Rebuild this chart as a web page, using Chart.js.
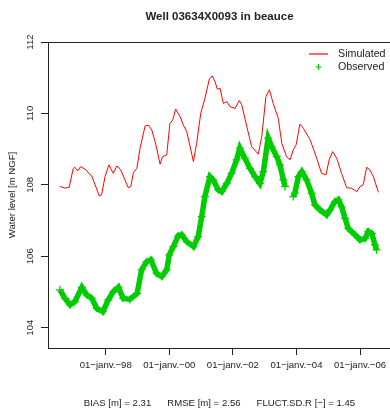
<!DOCTYPE html>
<html>
<head>
<meta charset="utf-8">
<script src="https://cdn.jsdelivr.net/npm/chart.js@4.4.0/dist/chart.umd.min.js"></script>
<style>
  html, body { margin: 0; padding: 0; background: #fff; overflow: hidden; width: 390px; height: 412px; }
  #wrap { width: 400px; height: 412px; }
</style>
</head>
<body>
<div id="wrap"><canvas id="wellChart" width="400" height="412"></canvas></div>
<script>
// simulated head (decimal year / m NGF)
const simDates = [1996.56, 1996.72, 1996.85, 1996.98, 1997.03, 1997.12, 1997.21, 1997.38, 1997.51, 1997.56, 1997.80, 1997.87, 1997.98,
  1998.10, 1998.24, 1998.35, 1998.47, 1998.71, 1998.79, 1998.87, 1998.98, 1999.08, 1999.24, 1999.34, 1999.45, 1999.58, 1999.71, 1999.79, 1999.92,
  2000.02, 2000.11, 2000.20, 2000.34, 2000.44, 2000.55, 2000.76, 2000.86, 2000.99, 2001.12, 2001.26, 2001.35, 2001.44, 2001.51, 2001.60, 2001.70,
  2001.81, 2001.91, 2002.07, 2002.20, 2002.28, 2002.44, 2002.59, 2002.80, 2002.91, 2003.04, 2003.15, 2003.27, 2003.43, 2003.54, 2003.69, 2003.80,
  2003.90, 2003.99, 2004.11, 2004.22, 2004.43, 2004.64, 2004.79, 2004.93, 2005.03, 2005.14, 2005.27, 2005.42, 2005.58, 2005.74, 2005.90, 2006.00,
  2006.10, 2006.21, 2006.31, 2006.42, 2006.58];
const simLevels = [107.95, 107.91, 107.93, 108.46, 108.49, 108.39, 108.51, 108.42, 108.28, 108.25, 107.69, 107.72, 108.23,
  108.56, 108.32, 108.53, 108.42, 107.92, 107.95, 108.34, 108.46, 109.02, 109.65, 109.67, 109.54, 109.12, 108.58, 108.79, 108.84,
  109.72, 109.82, 110.12, 109.91, 109.68, 109.49, 108.65, 109.16, 110.00, 110.42, 110.96, 111.05, 110.89, 110.68, 110.70, 110.28,
  110.33, 110.19, 110.14, 110.36, 110.24, 109.63, 109.07, 108.86, 109.35, 110.47, 110.66, 110.28, 109.86, 109.16, 108.79, 108.70,
  108.98, 109.12, 109.70, 109.58, 109.26, 108.74, 108.32, 108.28, 108.70, 108.93, 108.74, 108.32, 107.92, 107.90, 107.81, 107.95,
  108.00, 108.49, 108.42, 108.23, 107.79];

// observed head, null = no measurement
const obsDates = [1996.56, 1996.72, 1996.88, 1997.03, 1997.25, 1997.40, 1997.56, 1997.72, 1997.91, 1998.08, 1998.24, 1998.40, 1998.55,
  1998.76, 1998.99, 1999.13, 1999.29, 1999.42, 1999.60, 1999.76, 1999.92, 2000.00, 2000.13, 2000.28, 2000.39, 2000.55, 2000.76, 2000.91,
  2001.02, 2001.12, 2001.28, 2001.38, 2001.54, 2001.65, 2001.81, 2001.96, 2002.12, 2002.22, 2002.38, 2002.54, 2002.70, 2002.85, 2002.96,
  2003.11, 2003.22, 2003.38, 2003.48, 2003.59, 2003.64, 2003.77, 2003.90, 2003.95, 2004.06, 2004.17, 2004.32, 2004.48, 2004.58, 2004.74,
  2004.95, 2005.06, 2005.21, 2005.32, 2005.42, 2005.53, 2005.63, 2005.84, 2006.00, 2006.16, 2006.26, 2006.37, 2006.47, 2006.52];
const obsLevels = [105.06, 104.82, 104.64, 104.73, 105.13, 104.92, 104.82, 104.54, 104.45, 104.78, 105.01, 105.13, 104.82,
  104.79, 104.96, 105.62, 105.85, 105.90, 105.52, 105.43, 105.62, 106.04, 106.27, 106.57, 106.60, 106.41, 106.27, 106.55,
  107.11, 107.67, 108.23, 108.14, 107.86, 107.81, 108.04, 108.32, 108.70, 109.03, 108.74, 108.46, 108.23, 108.04, 108.37,
  109.31, 109.07, 108.79, 108.56, 108.14, 107.95, null, 107.67, 107.77, 108.23, 108.37, 108.14, 107.76, 107.44, 107.30,
  107.16, 107.30, 107.53, 107.58, 107.39, 107.06, 106.78, 106.60, 106.46, 106.50, 106.69, 106.64, 106.32, 106.18];

const xTickYears = [1998, 2000, 2002, 2004, 2006];
const xTickLabels = ['01\u2212janv.\u221298', '01\u2212janv.\u221200', '01\u2212janv.\u221202', '01\u2212janv.\u221204', '01\u2212janv.\u221206'];
const yTickValues = [104, 106, 108, 110, 112];
const statLabels = ['BIAS [m] = 2.31', 'RMSE [m] = 2.56', 'FLUCT.SD.R [\u2212] = 1.45'];

const FONT = '"Liberation Sans", Arial, Helvetica, sans-serif';
const simColor = 'rgb(255, 0, 0)';
const obsColor = 'rgb(0, 205, 0)';

function toPoints(xs, ys) {
  return xs.map((x, i) => ({ x: x, y: ys[i] }));
}

// title, y labels, box, legend and stats line (R style)
const rDecor = {
  id: 'rDecor',
  afterDraw(chart) {
    const ctx = chart.ctx;
    const area = chart.chartArea;
    const yScale = chart.scales.y;
    ctx.save();
    ctx.strokeStyle = '#222';
    ctx.lineWidth = 1;
    ctx.beginPath();
    ctx.moveTo(Math.round(area.left) + 0.5, Math.round(area.top) + 0.5);
    ctx.lineTo(Math.round(area.right) + 0.5, Math.round(area.top) + 0.5);
    ctx.lineTo(Math.round(area.right) + 0.5, Math.round(area.bottom) + 0.5);
    ctx.stroke();

    ctx.fillStyle = '#222';
    ctx.textAlign = 'center';
    ctx.textBaseline = 'middle';
    ctx.font = 'bold 11.5px ' + FONT;
    ctx.fillText('Well 03634X0093 in beauce', (area.left + area.right) / 2, 17);

    ctx.font = '9.6px ' + FONT;
    yTickValues.forEach((v) => {
      ctx.save();
      ctx.translate(30.5, yScale.getPixelForValue(v));
      ctx.rotate(-Math.PI / 2);
      ctx.fillText(String(v), 0, 0);
      ctx.restore();
    });

    ctx.save();
    ctx.translate(12.5, (area.top + area.bottom) / 2);
    ctx.rotate(-Math.PI / 2);
    ctx.fillText('Water level [m NGF]', 0, 0);
    ctx.restore();

    // stats line under the axis
    const gap = 16;
    const widths = statLabels.map((s) => ctx.measureText(s).width);
    const total = widths.reduce((a, b) => a + b, 0) + gap * (statLabels.length - 1);
    let sx = (area.left + area.right) / 2 - total / 2;
    ctx.textAlign = 'left';
    statLabels.forEach((s, i) => {
      ctx.fillText(s, sx, 403);
      sx += widths[i] + gap;
    });
    ctx.restore();

    // legend
    ctx.save();
    ctx.lineWidth = 1.2;
    ctx.strokeStyle = simColor;
    ctx.beginPath();
    ctx.moveTo(309, 54);
    ctx.lineTo(328, 54);
    ctx.stroke();
    ctx.strokeStyle = obsColor;
    ctx.lineWidth = 1.2;
    ctx.beginPath();
    ctx.moveTo(315.5, 67);
    ctx.lineTo(321.5, 67);
    ctx.moveTo(318.5, 64);
    ctx.lineTo(318.5, 70);
    ctx.stroke();
    ctx.font = '10.7px ' + FONT;
    ctx.fillStyle = '#222';
    ctx.textAlign = 'left';
    ctx.textBaseline = 'middle';
    ctx.fillText('Simulated', 338, 54);
    ctx.fillText('Observed', 338, 67);
    ctx.restore();
  }
};

new Chart(document.getElementById('wellChart').getContext('2d'), {
  type: 'scatter',
  data: {
    datasets: [
      {
        label: 'Simulated',
        data: toPoints(simDates, simLevels),
        showLine: true,
        borderColor: simColor,
        borderWidth: 1,
        pointRadius: 0,
        tension: 0,
      },
      {
        label: 'Observed',
        data: toPoints(obsDates, obsLevels),
        showLine: true,
        spanGaps: false,
        borderColor: obsColor,
        borderWidth: 5.5,
        pointStyle: 'cross',
        pointRadius: 4,
        pointBorderWidth: 1.3,
        pointBorderColor: obsColor,
        pointBackgroundColor: obsColor,
        tension: 0,
      },
    ],
  },
  options: {
    responsive: false,
    devicePixelRatio: 1,
    animation: false,
    layout: { padding: { top: 42, right: 9, left: 0, bottom: 0 } },
    plugins: {
      legend: { display: false },
      tooltip: { enabled: false },
      title: { display: false },
    },
    scales: {
      x: {
        type: 'linear',
        position: 'bottom',
        min: 1996.185,
        max: 2006.975,
        afterBuildTicks: (s) => { s.ticks = xTickYears.map((v) => ({ value: v })); },
        afterFit: (s) => { s.height = 64; },
        grid: { drawOnChartArea: false, drawTicks: true, tickLength: 7, color: '#222', lineWidth: 1 },
        border: { display: true, color: '#222', width: 1 },
        ticks: {
          autoSkip: false,
          maxRotation: 0,
          padding: 5,
          color: '#222',
          font: { family: FONT, size: 9.6 },
          callback: (v) => xTickLabels[xTickYears.indexOf(v)],
        },
      },
      y: {
        type: 'linear',
        position: 'left',
        min: 103.43,
        max: 112,
        afterBuildTicks: (s) => { s.ticks = yTickValues.map((v) => ({ value: v })); },
        afterFit: (s) => { s.width = 48; },
        grid: { drawOnChartArea: false, drawTicks: true, tickLength: 7, color: '#222', lineWidth: 1 },
        border: { display: true, color: '#222', width: 1 },
        ticks: { display: false },
      },
    },
  },
  plugins: [rDecor],
});
</script>
</body>
</html>
